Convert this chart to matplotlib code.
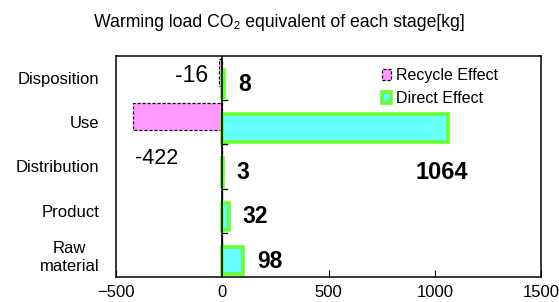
import matplotlib
matplotlib.use("Agg")
import matplotlib.pyplot as plt
import numpy as np

plt.rcParams['font.family'] = ['Liberation Sans', 'DejaVu Sans']

stages = ['Raw\nmaterial', 'Product', 'Distribution', 'Use', 'Disposition']
recycle = [0, 0, 0, -422, -16]
direct = [98, 32, 3, 1064, 8]
xticks = [-500, 0, 500, 1000, 1500]

fig = plt.figure(figsize=(5.59, 3.02), dpi=100)
ax = fig.add_axes([0.2075, 0.083, 0.7605, 0.732])

y = np.arange(len(stages))
h = 0.62
ax.barh(y + 0.13, recycle, height=h, color='#ff99ff', edgecolor='black',
        linestyle=(0, (2.5, 1.5)), linewidth=0.9, label='Recycle Effect', zorder=2)
ax.barh(y - 0.13, direct, height=h, color='#66ffff', edgecolor='#66ff33',
        linewidth=2.6, label='Direct Effect', zorder=3)

# value labels
for i, v in enumerate(direct):
    if v > 500:
        ax.text(v - 156, i - 1.14, str(v), fontsize=17, fontweight='bold',
                va='center', ha='left')
    else:
        ax.text(v + 65, i - 0.14, str(v), fontsize=16.5, fontweight='bold',
                va='center', ha='left')
for i, v in enumerate(recycle):
    if v == 0:
        continue
    if v < -100:
        ax.text(v + 13, i - 0.82, str(v), fontsize=15.5, va='center', ha='left')
    else:
        ax.text(-65, i + 0.05, str(v), fontsize=16.5, va='center', ha='right')

# category axis at zero with inner ticks
ax.axvline(0, color='black', lw=1.2, zorder=4)
for b in y[:-1] + 0.5:
    ax.plot([0, 22], [b, b], color='black', lw=1, zorder=4)

ax.set_xlim(-500, 1500)
ax.set_ylim(-0.5, len(stages) - 0.5)
ax.set_xticks(xticks)
ax.set_yticks(y)
ax.set_yticklabels(stages, fontsize=12, ha='right', multialignment='center')
ax.tick_params(axis='y', length=0, pad=12)
ax.tick_params(axis='x', direction='in', length=5, labelsize=12, pad=6)
for s in ax.spines.values():
    s.set_linewidth(1.1)

ax.legend(loc='upper left', bbox_to_anchor=(0.625, 0.945), frameon=False,
          fontsize=11.5, handlelength=0.6, handleheight=0.7, handletextpad=0.3,
          labelspacing=0.5, borderaxespad=0.0, borderpad=0.0)

fig.text(0.5, 0.927, 'Warming load CO\u2082 equivalent of each stage[kg]',
         ha='center', va='center', fontsize=12.7)

fig.savefig('out.png', dpi=100)
